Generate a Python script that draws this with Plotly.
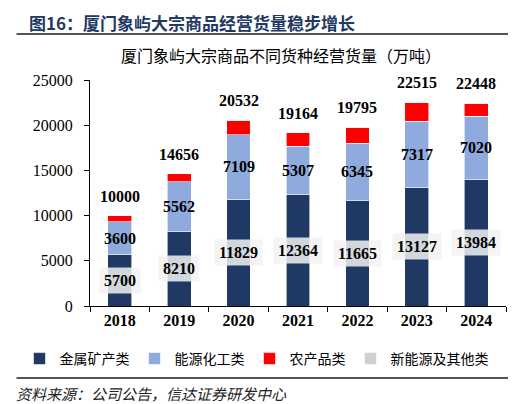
import plotly.graph_objects as go

# 厦门象屿大宗商品不同货种经营货量（万吨）
years = ["2018", "2019", "2020", "2021", "2022", "2023", "2024"]
metal = [5700, 8210, 11829, 12364, 11665, 13127, 13984]
energy = [3600, 5562, 7109, 5307, 6345, 7317, 7020]
agri = [700, 884, 1594, 1493, 1785, 2071, 1444]
other = [0, 0, 0, 0, 0, 0, 0]
totals = [10000, 14656, 20532, 19164, 19795, 22515, 22448]

W, H = 516, 404
L, R, T, B = 79, 498, 72, 298  # plot area in pixels


def px(x):
    return (x - L) / (R - L)


def py(y):
    return (B - y) / (B - T)


serif = "Liberation Serif"
num_font = dict(family=serif, size=16, color="#000000")
cjk = "Noto Sans CJK SC"

fig = go.Figure()
series = [
    ("金属矿产类", metal, "#1F3864"),
    ("能源化工类", energy, "#8FAADC"),
    ("农产品类", agri, "#FF0000"),
    ("新能源及其他类", other, "#D0D0D0"),
]
for name, vals, col in series:
    fig.add_trace(go.Bar(x=years, y=vals, name=name, marker_color=col,
                         marker_line=dict(color="#FFFFFF", width=0.6)))

# category axis: annotations placed by category index
ann = []
for i in range(len(years)):
    ann.append(dict(x=i, y=metal[i] / 2, text="<b>%d</b>" % metal[i], showarrow=False,
                    font=num_font, bgcolor="rgba(242,242,242,0.85)", borderpad=4))
    ann.append(dict(x=i, y=metal[i] + energy[i] / 2, text="<b>%d</b>" % energy[i],
                    showarrow=False, font=num_font))
    ann.append(dict(x=i, y=totals[i], text="<b>%d</b>" % totals[i], showarrow=False,
                    font=num_font, yanchor="bottom", yshift=9))

ann.append(dict(xref="paper", yref="paper", x=px(16), y=py(14), xanchor="left",
                yanchor="middle", showarrow=False,
                text="<b>图16：厦门象屿大宗商品经营货量稳步增长</b>",
                font=dict(family=cjk, size=17, color="#1F3864")))
ann.append(dict(xref="paper", yref="paper", x=px(271), y=py(47), xanchor="center",
                yanchor="middle", showarrow=False,
                text="厦门象屿大宗商品不同货种经营货量（万吨）",
                font=dict(family=cjk, size=16, color="#000000")))
ann.append(dict(xref="paper", yref="paper", x=px(2), y=py(385), xanchor="left",
                yanchor="middle", showarrow=False,
                text="<i>资料来源：公司公告，信达证券研发中心</i>",
                font=dict(family=cjk, size=15, color="#222222")))

shapes = [
    dict(type="line", xref="paper", yref="paper", x0=px(5), x1=px(511),
         y0=py(26), y1=py(26), line=dict(color="#555555", width=2)),
    dict(type="line", xref="paper", yref="paper", x0=px(5), x1=px(511),
         y0=py(370), y1=py(370), line=dict(color="#555555", width=2)),
]

fig.update_layout(
    width=W, height=H,
    margin=dict(l=L, r=W - R, t=T, b=H - B),
    barmode="stack", bargap=0.6,
    plot_bgcolor="#FFFFFF", paper_bgcolor="#FFFFFF",
    showlegend=True,
    legend=dict(orientation="h", x=px(8), xanchor="left", y=py(351), yanchor="middle",
                font=dict(family=cjk, size=14, color="#000000"),
                itemwidth=30, traceorder="normal", tracegroupgap=0),
    annotations=ann, shapes=shapes,
    xaxis=dict(type="category", range=[-0.5, len(years) - 0.5], showline=True,
               linecolor="#000000", linewidth=1,
               ticks="outside", tickson="boundaries", ticklen=5, tickcolor="#000000",
               tickfont=dict(family=serif, size=16, color="#000000"),
               tickprefix="<b>", ticksuffix="</b>", showgrid=False),
    yaxis=dict(range=[0, 25000], tickvals=[0, 5000, 10000, 15000, 20000, 25000],
               tickformat="d",
               showline=True, linecolor="#000000", linewidth=1, ticks="outside",
               ticklen=5, tickcolor="#000000", showgrid=False, zeroline=False,
               tickfont=dict(family=serif, size=16, color="#000000"),
               tickprefix="<b>", ticksuffix="</b>", ticklabelstandoff=8),
)

fig.write_html("out.html")
